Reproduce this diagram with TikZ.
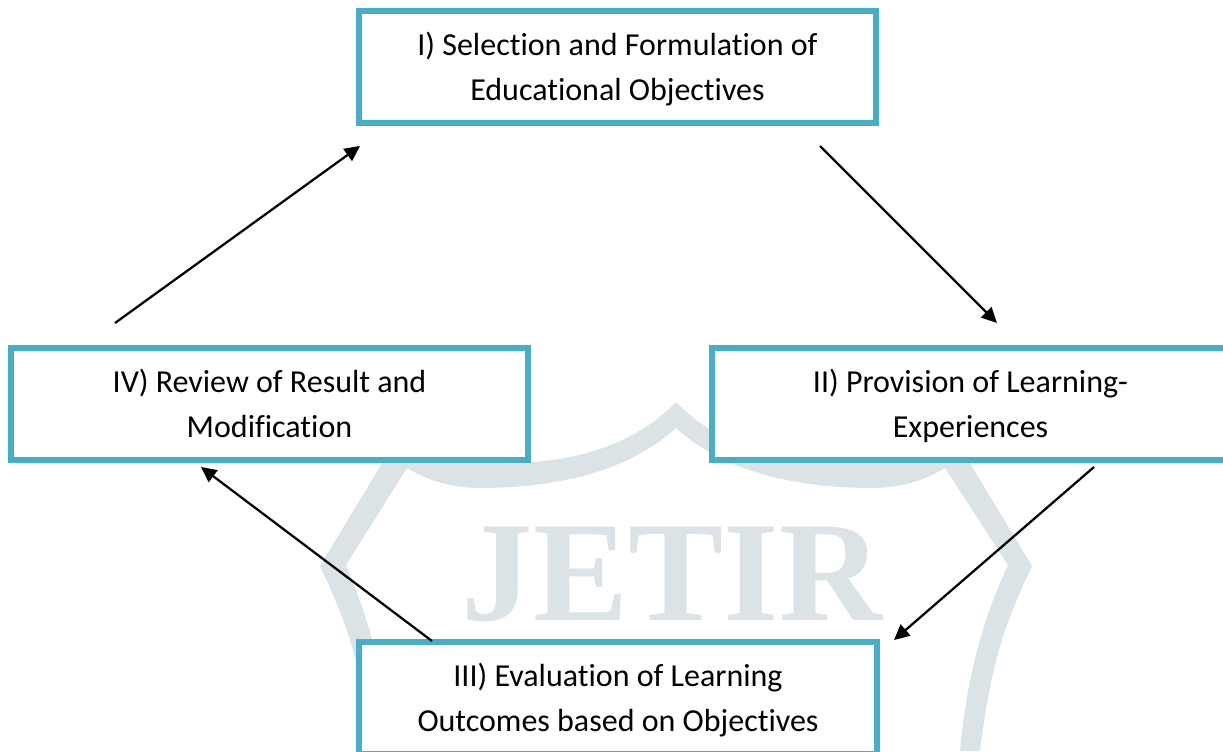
\documentclass[tikz,border=0pt]{standalone}
\usepackage{fontspec}
\setmainfont{Carlito}[Ligatures=NoCommon]
\newfontfamily\wmfont{Liberation Serif}
\usepackage{pgf,tikz}
\usetikzlibrary{arrows.meta}
\definecolor{bxblue}{rgb}{0.294,0.675,0.776}
\definecolor{wmgrey}{rgb}{0.863,0.89,0.906}
\newcommand{\lnstrut}{\rule[-8.3pt]{0pt}{33.7pt}}
\tikzset{stagebox/.style={draw=bxblue,fill=white,line width=4.5pt,minimum width=388pt,minimum height=84pt,inner sep=0pt,align=center,font=\fontsize{24}{33.75}\selectfont},
	flowline/.style={->,line width=1.7pt}}

\begin{document}
\begin{tikzpicture}[line cap=butt,line join=miter,>={Triangle[length=11.5pt,width=11pt]},x=0.75pt,y=-0.75pt]
		\useasboundingbox (0,0) rectangle (1223,751);
		\clip (0,0) rectangle (1223,751);
		% watermark
		\fill[wmgrey] (676,402) .. controls (630,450) and (560,465) .. (500,462) .. controls (460,460) and (420,450) .. (393,445) -- (320,566) .. controls (340,610) and (360,650) .. (372,751) -- (392,751) .. controls (385,670) and (365,610) .. (346,565) -- (407,468) .. controls (430,482) and (455,488) .. (480,488) .. controls (560,488) and (630,470) .. (676,428) -- cycle;
		\fill[wmgrey] (676,402) .. controls (722,450) and (792,465) .. (852,462) .. controls (892,460) and (932,450) .. (959,445) -- (1032,566) .. controls (1012,610) and (992,650) .. (980,751) -- (960,751) .. controls (967,670) and (987,610) .. (1008,565) -- (945,468) .. controls (922,482) and (897,488) .. (872,488) .. controls (792,488) and (722,470) .. (676,428) -- cycle;
		\node[text=wmgrey,inner sep=0pt,font=\fontsize{107}{107}\wmfont\bfseries] (wmark) at (672,574.5) {JETIR};
		% boxes
		\node[stagebox] (stageone) at (617.5,67) {\lnstrut I) Selection and Formulation of\\Educational Objectives\lnstrut};
		\node[stagebox] (stagetwo) at (970.5,403.5) {\lnstrut II) Provision of Learning-\\Experiences\lnstrut};
		\node[stagebox] (stagethree) at (618,697.5) {\lnstrut III) Evaluation of Learning\\Outcomes based on Objectives\lnstrut};
		\node[stagebox] (stagefour) at (269.5,403.5) {\lnstrut IV) Review of Result and\\Modification\lnstrut};
		% arrow ends
		\coordinate (fourout) at (115,323);
		\coordinate (onein) at (360,146);
		\coordinate (oneout) at (820,146);
		\coordinate (twoin) at (997,323);
		\coordinate (twoout) at (1094,467);
		\coordinate (threein) at (894,640);
		\coordinate (threeout) at (432,641);
		\coordinate (fourin) at (201,467);
		\draw[flowline] (fourout) -- (onein);
		\draw[flowline] (oneout) -- (twoin);
		\draw[flowline] (twoout) -- (threein);
		\draw[flowline] (threeout) -- (fourin);
\end{tikzpicture}
\end{document}
